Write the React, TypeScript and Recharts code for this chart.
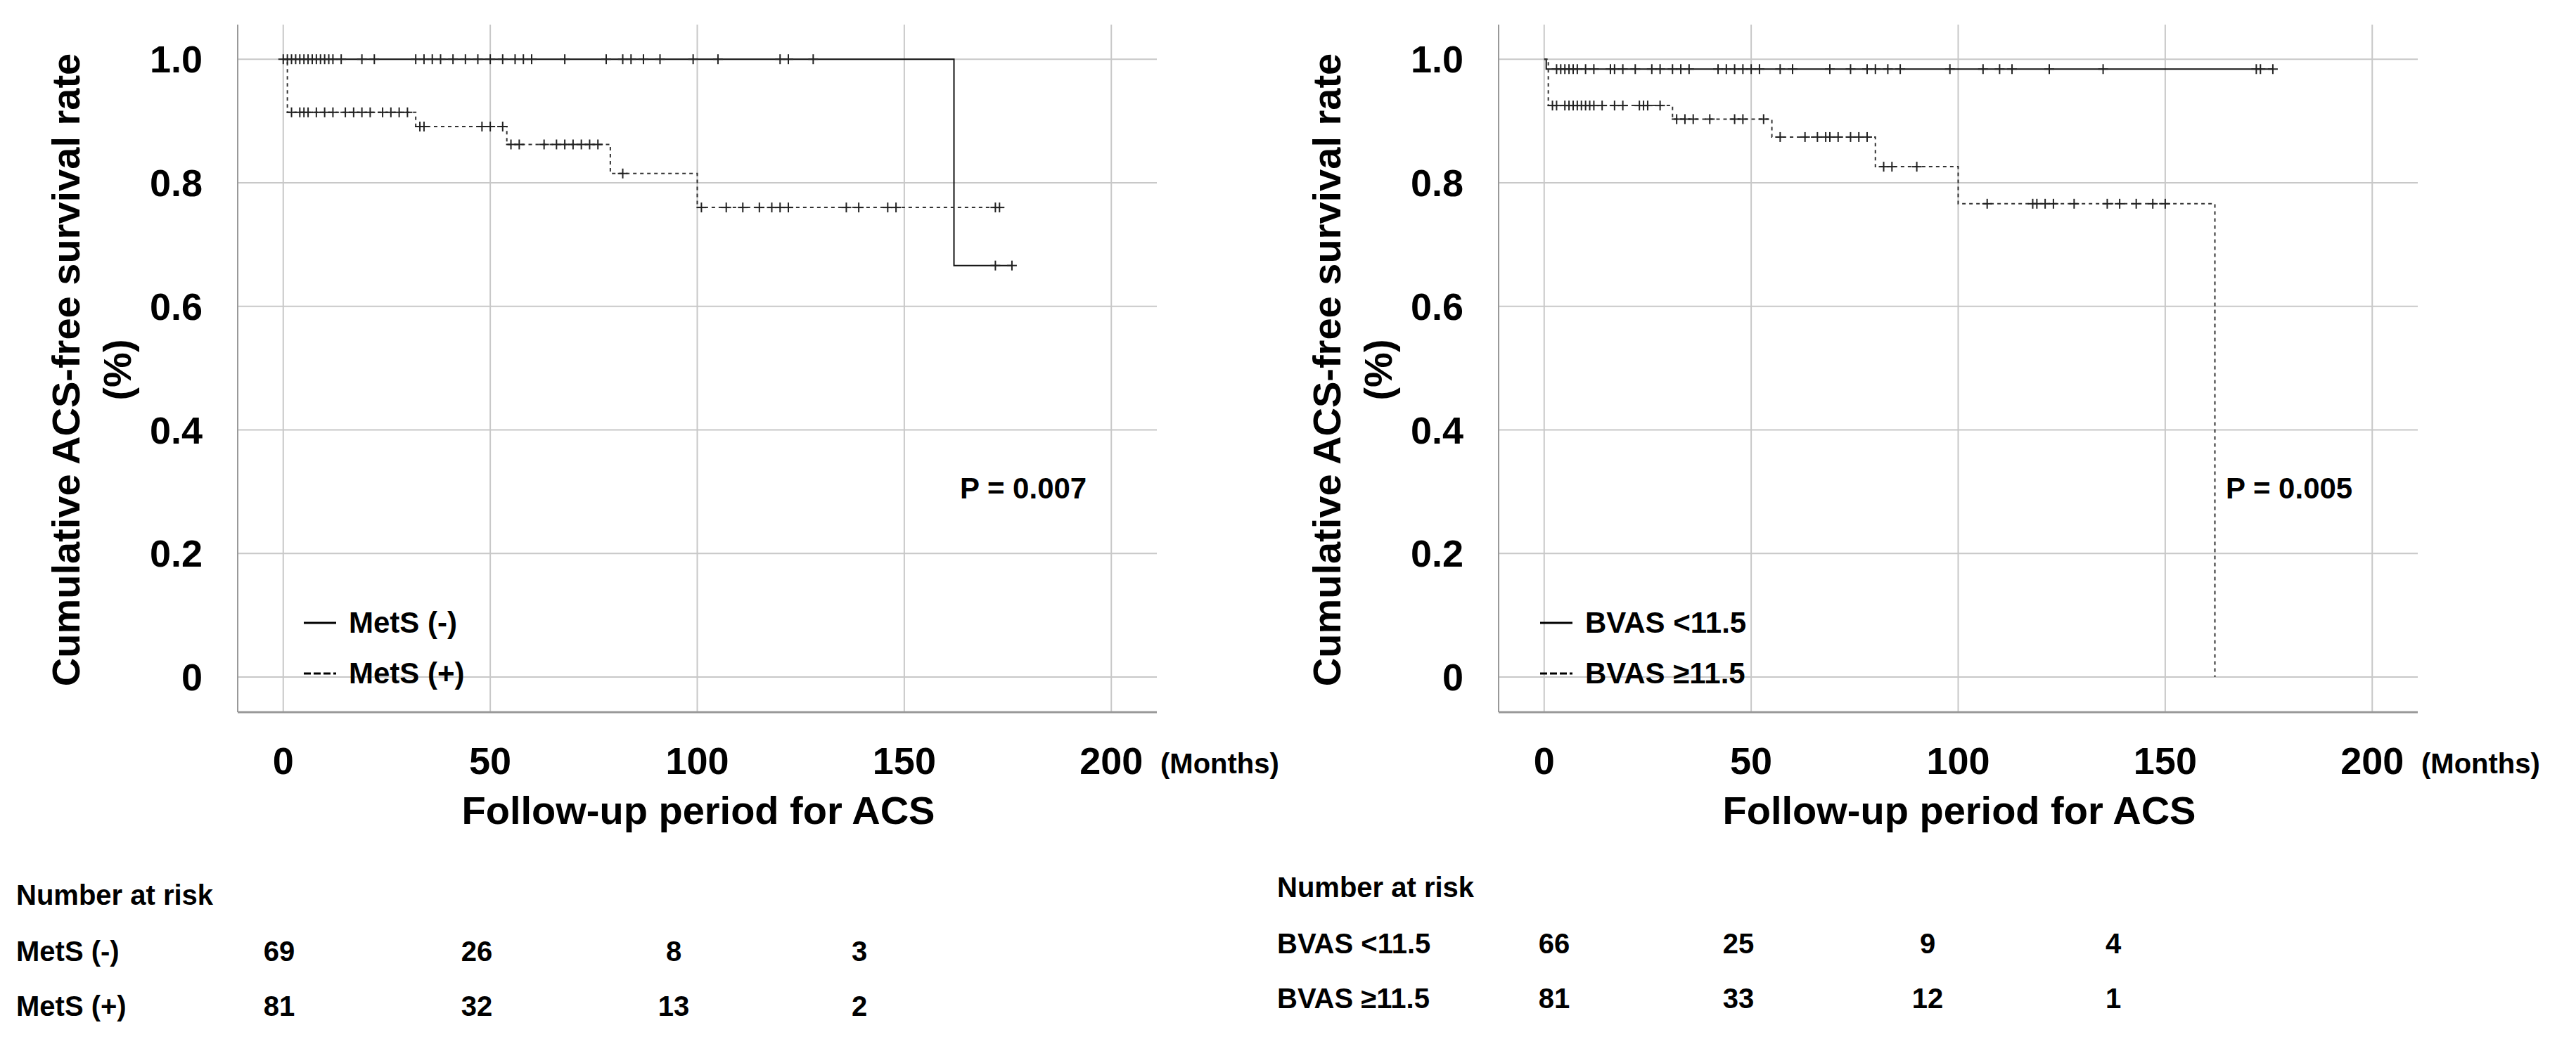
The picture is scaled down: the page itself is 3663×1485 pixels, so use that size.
import { ComposedChart, Line, Scatter, XAxis, YAxis, CartesianGrid } from 'recharts';

// survival steps: [time, survival]
const metsNegSteps = [[0, 1], [162, 0.666], [176, 0.666]];
const metsPosSteps = [[0, 1], [1, 0.914], [32, 0.891], [54, 0.862], [79, 0.815], [100, 0.76], [173, 0.76]];
const bvasLowSteps = [[0, 1], [0.5, 0.984], [176, 0.984]];
const bvasHighSteps = [[0, 1], [1, 0.925], [31, 0.903], [55, 0.874], [80, 0.826], [100, 0.766], [162, 0.766], [162, 0]];

// censored times grouped by survival level
const metsNegCensor: [number, number[]][] = [
  [1, [0, 1, 2, 3, 4, 5, 6, 7, 8, 9, 10, 11, 12, 14, 19, 22, 32, 34, 36, 38, 41, 44, 47, 50, 53, 56, 58, 60, 68, 78, 82, 84, 87, 91, 99, 105, 120, 122, 128]],
  [0.666, [172, 176]],
];
const metsPosCensor: [number, number[]][] = [
  [0.914, [2, 4, 5, 6, 8, 10, 12, 15, 17, 19, 21, 24, 26, 28, 30]],
  [0.891, [33, 34, 48, 50, 53]],
  [0.862, [55, 57, 63, 66, 68, 70, 72, 74, 76]],
  [0.815, [82]],
  [0.76, [101, 107, 111, 115, 118, 120, 122, 136, 139, 146, 148, 172, 173]],
];
const bvasLowCensor: [number, number[]][] = [
  [0.984, [3, 4, 5, 6, 7, 8, 10, 12, 16, 17, 19, 22, 26, 28, 31, 33, 35, 42, 44, 46, 48, 50, 52, 57, 60, 69, 74, 78, 80, 83, 86, 98, 106, 110, 113, 122, 135, 172, 173, 176]],
];
const bvasHighCensor: [number, number[]][] = [
  [0.925, [2, 3, 5, 6, 7, 8, 9, 10, 11, 12, 14, 17, 19, 23, 24, 25, 28]],
  [0.903, [32, 34, 36, 40, 46, 48, 53]],
  [0.874, [57, 63, 66, 68, 69, 71, 74, 76, 78]],
  [0.826, [82, 84, 90]],
  [0.766, [107, 118, 119, 121, 123, 128, 136, 139, 143, 147, 150]],
];

const xTicks = [0, 50, 100, 150, 200];
const yTicks = [0, 0.2, 0.4, 0.6, 0.8, 1.0];

const riskLeft = { labels: ['MetS (-)', 'MetS (+)'], rows: [[69, 26, 8, 3], [81, 32, 13, 2]] };
const riskRight = { labels: ['BVAS <11.5', 'BVAS \u226511.5'], rows: [[66, 25, 9, 4], [81, 33, 12, 1]] };

const font = '"Liberation Sans", Arial, sans-serif';

const toPts = (s: number[][]) => s.map(([t, v]) => ({ t, s: v }));
const toCensor = (c: [number, number[]][]) => c.flatMap(([v, ts]) => ts.map((t) => ({ t, s: v })));

const Plus = (p: any) => (
  <g stroke="#222" strokeWidth={2}>
    <line x1={p.cx - 7} x2={p.cx + 7} y1={p.cy} y2={p.cy} />
    <line x1={p.cx} x2={p.cx} y1={p.cy - 7} y2={p.cy + 7} />
  </g>
);

function Panel(props: { left: number; solid: number[][]; dashed: number[][]; solidC: any; dashedC: any; names: string[]; p: string; risk: any; riskTop: number; riskX: number[] }) {
  const L = props.left;
  const abs = (x: number, y: number, extra: any = {}) => ({ position: 'absolute' as const, left: x, top: y, fontFamily: font, fontWeight: 'bold', whiteSpace: 'nowrap' as const, ...extra });
  return (
    <>
      <div style={{ position: 'absolute', left: L, top: 0 }}>
        <ComposedChart width={1700} height={1140} margin={{ top: 35, right: 55, left: 0, bottom: 0 }}>
          <CartesianGrid stroke="#c8c8c8" strokeWidth={2} horizontalValues={yTicks} verticalValues={xTicks} />
          <XAxis type="number" dataKey="t" domain={[-11, 211]} ticks={xTicks} allowDataOverflow height={127}
            tickLine={false} axisLine={{ stroke: '#999', strokeWidth: 3 }} tickMargin={44}
            tick={{ fontSize: 54, fontWeight: 'bold', fill: '#000', fontFamily: font }} />
          <YAxis type="number" dataKey="s" domain={[-0.057, 1.056]} ticks={yTicks} allowDataOverflow width={338}
            tickLine={false} axisLine={{ stroke: '#999', strokeWidth: 2 }} tickMargin={44}
            tickFormatter={(v: number) => (v === 0 ? '0' : v.toFixed(1))}
            tick={{ fontSize: 54, fontWeight: 'bold', fill: '#000', fontFamily: font }} />
          <Line data={toPts(props.solid)} dataKey="s" type="stepAfter" stroke="#111" strokeWidth={2} dot={false} isAnimationActive={false} />
          <Line data={toPts(props.dashed)} dataKey="s" type="stepAfter" stroke="#333" strokeWidth={2} strokeDasharray="5 5" dot={false} isAnimationActive={false} />
          <Scatter data={props.solidC} dataKey="s" shape={Plus} isAnimationActive={false} />
          <Scatter data={props.dashedC} dataKey="s" shape={Plus} isAnimationActive={false} />
        </ComposedChart>
      </div>
      <div style={abs(L + 93, 526, { fontSize: 56, transform: 'translate(-50%,-50%) rotate(-90deg)' })}>Cumulative ACS-free survival rate</div>
      <div style={abs(L + 166, 526, { fontSize: 56, transform: 'translate(-50%,-50%) rotate(-90deg)' })}>(%)</div>
      <div style={abs(L + 993, 1152, { fontSize: 56, transform: 'translate(-50%,-50%)' })}>Follow-up period for ACS</div>
      <div style={abs(L + 1650, 1086, { fontSize: 40, transform: 'translateY(-50%)' })}>(Months)</div>
      <div style={abs(L + (props.left ? 1372 : 1365), 695, { fontSize: 42, transform: 'translateY(-50%)' })}>{props.p}</div>
      {props.names.map((n, i) => (
        <div key={n} style={abs(L + (props.left ? 397 : 432), 886 + i * 72, { fontSize: 42, transform: 'translateY(-50%)', display: 'flex', alignItems: 'center' })}>
          <svg width={50} height={6} style={{ marginRight: 14 }}>
            <line x1={0} x2={46} y1={3} y2={3} stroke="#000" strokeWidth={3} strokeDasharray={i ? '10 4' : undefined} />
          </svg>
          {n}
        </div>
      ))}
      <div style={abs(L + 23, props.riskTop, { fontSize: 40, transform: 'translateY(-50%)' })}>Number at risk</div>
      {props.risk.labels.map((lab: string, i: number) => (
        <div key={lab}>
          <div style={abs(L + 23, props.riskTop + 80 + i * 78, { fontSize: 40, transform: 'translateY(-50%)' })}>{lab}</div>
          {props.risk.rows[i].map((v: number, j: number) => (
            <div key={j} style={abs(props.riskX[j], props.riskTop + 80 + i * 78, { fontSize: 40, transform: 'translate(-50%,-50%)' })}>{v}</div>
          ))}
        </div>
      ))}
    </>
  );
}

export default function App() {
  return (
    <div style={{ position: 'relative', width: 3663, height: 1485, margin: -8, background: '#fff', overflow: 'hidden' }}>
      <Panel left={0} solid={metsNegSteps} dashed={metsPosSteps} solidC={toCensor(metsNegCensor)} dashedC={toCensor(metsPosCensor)}
        names={['MetS (-)', 'MetS (+)']} p="P = 0.007" risk={riskLeft} riskTop={1273} riskX={[397, 678, 958, 1222]} />
      <Panel left={1793} solid={bvasLowSteps} dashed={bvasHighSteps} solidC={toCensor(bvasLowCensor)} dashedC={toCensor(bvasHighCensor)}
        names={['BVAS <11.5', 'BVAS \u226511.5']} p="P = 0.005" risk={riskRight} riskTop={1262} riskX={[2210, 2472, 2741, 3005]} />
    </div>
  );
}
